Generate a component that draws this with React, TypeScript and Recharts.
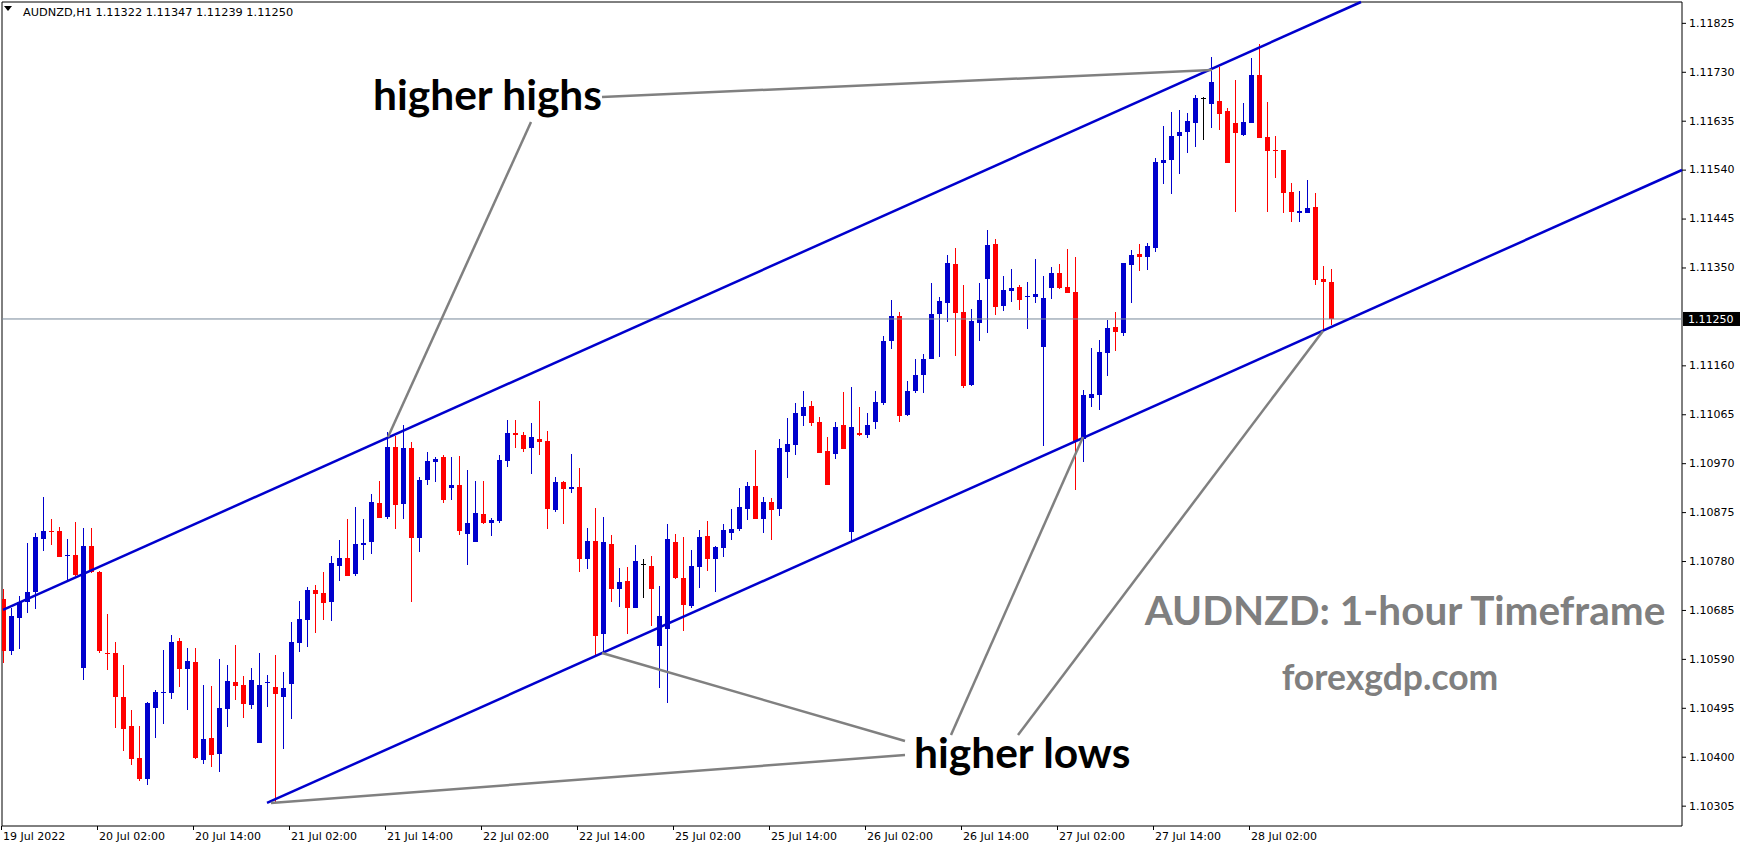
import React from 'react';
import {
  ComposedChart,
  Bar,
  XAxis,
  YAxis,
  ReferenceLine,
  ReferenceArea,
} from 'recharts';

// AUDNZD H1 candles, 19 Jul 14:00 .. 28 Jul 12:00
const opens = [
  1.10706, 1.10605, 1.10669, 1.107, 1.1072, 1.10823, 1.10838, 1.10838, 1.1079, 1.10792,
  1.10572, 1.10809, 1.10759, 1.10601, 1.10601, 1.10516, 1.1046, 1.10397, 1.10357, 1.10495,
  1.10524, 1.10524, 1.10625, 1.1057, 1.10584, 1.10394, 1.10436, 1.10405, 1.10493, 1.10545,
  1.10539, 1.105, 1.10427, 1.10543, 1.10535, 1.10516, 1.10541, 1.10621, 1.10665, 1.10724,
  1.10718, 1.107, 1.1077, 1.10786, 1.10755, 1.10812, 1.10817, 1.10893, 1.10866, 1.11001,
  1.10891, 1.11, 1.10825, 1.10937, 1.10972, 1.10982, 1.10922, 1.10928, 1.10833, 1.10817,
  1.10871, 1.10854, 1.10858, 1.10974, 1.11029, 1.11025, 1.11, 1.11017, 1.11013, 1.10879,
  1.10933, 1.10921, 1.10924, 1.10784, 1.10819, 1.10638, 1.10813, 1.10726, 1.10741, 1.10689,
  1.10774, 1.1077, 1.10615, 1.10648, 1.10817, 1.10747, 1.10693, 1.10768, 1.10829, 1.10784,
  1.10805, 1.10834, 1.10842, 1.10881, 1.10926, 1.10862, 1.10895, 1.10881, 1.10992, 1.11005,
  1.11062, 1.11081, 1.1105, 1.10994, 1.10988, 1.11044, 1.10836, 1.11029, 1.11025, 1.1105,
  1.11087, 1.11207, 1.11256, 1.11064, 1.1111, 1.11141, 1.11172, 1.1126, 1.11281, 1.11357,
  1.11264, 1.11122, 1.11242, 1.11328, 1.11396, 1.11275, 1.11304, 1.11312, 1.11293, 1.11293,
  1.11196, 1.1131, 1.11339, 1.11312, 1.11302, 1.11017, 1.11097, 1.11102, 1.11184, 1.11234,
  1.11223, 1.11355, 1.11376, 1.1137, 1.11388, 1.11553, 1.11559, 1.11605, 1.11613, 1.11631,
  1.1168, 1.11668, 1.11673, 1.11654, 1.11631, 1.11607, 1.11631, 1.11724, 1.11603, 1.11579,
  1.11578, 1.11497, 1.11456, 1.11456, 1.11468, 1.11328, 1.11322,
];
const highs = [
  1.10726, 1.10689, 1.10712, 1.10815, 1.10834, 1.10904, 1.10862, 1.10846, 1.10823, 1.10856,
  1.10844, 1.10844, 1.10761, 1.10677, 1.10623, 1.10578, 1.10491, 1.1046, 1.10506, 1.1053,
  1.10607, 1.10636, 1.10631, 1.10611, 1.10611, 1.10539, 1.10537, 1.1059, 1.10578, 1.10617,
  1.10557, 1.10572, 1.10601, 1.10559, 1.10598, 1.10565, 1.10662, 1.10702, 1.1073, 1.10733,
  1.10759, 1.1079, 1.10821, 1.10862, 1.10885, 1.10862, 1.1091, 1.10935, 1.11031, 1.11023,
  1.11044, 1.11011, 1.10943, 1.10992, 1.10982, 1.10986, 1.10982, 1.10984, 1.10957, 1.10935,
  1.10935, 1.10864, 1.10986, 1.11054, 1.11054, 1.11031, 1.11048, 1.11091, 1.11033, 1.10943,
  1.10935, 1.10988, 1.10961, 1.10844, 1.10883, 1.10866, 1.10831, 1.10766, 1.10768, 1.10811,
  1.10784, 1.1079, 1.10732, 1.10852, 1.10833, 1.10827, 1.10801, 1.1084, 1.10858, 1.10809,
  1.10852, 1.10881, 1.10922, 1.10933, 1.10996, 1.10904, 1.10902, 1.11017, 1.11058, 1.11087,
  1.1111, 1.11091, 1.1106, 1.11021, 1.1105, 1.11108, 1.11118, 1.11079, 1.11067, 1.1111,
  1.11217, 1.11287, 1.11264, 1.1113, 1.11172, 1.11182, 1.1132, 1.11293, 1.11374, 1.11388,
  1.11316, 1.11269, 1.1132, 1.11423, 1.11405, 1.11334, 1.11347, 1.11316, 1.11322, 1.11367,
  1.11334, 1.11351, 1.11357, 1.11386, 1.1137, 1.11112, 1.11194, 1.11209, 1.11248, 1.11264,
  1.11359, 1.11384, 1.11396, 1.11398, 1.11563, 1.11625, 1.11652, 1.11656, 1.1165, 1.11685,
  1.11681, 1.11759, 1.11739, 1.1166, 1.11714, 1.11669, 1.11757, 1.11784, 1.11671, 1.11605,
  1.11578, 1.11514, 1.11499, 1.1152, 1.11495, 1.11353, 1.11347,
];
const lows = [
  1.10582, 1.10598, 1.10609, 1.10679, 1.10687, 1.108, 1.10811, 1.10788, 1.10743, 1.10751,
  1.10549, 1.10757, 1.10601, 1.10568, 1.10456, 1.10411, 1.10384, 1.10353, 1.10345, 1.10436,
  1.10464, 1.10512, 1.10535, 1.10491, 1.10396, 1.10386, 1.1038, 1.1037, 1.10458, 1.1051,
  1.10475, 1.10493, 1.10427, 1.10497, 1.1031, 1.10415, 1.10473, 1.10603, 1.10613, 1.1064,
  1.10665, 1.10663, 1.10741, 1.10751, 1.10751, 1.10782, 1.10794, 1.10864, 1.10862, 1.10842,
  1.10862, 1.107, 1.10798, 1.10928, 1.10933, 1.10893, 1.10899, 1.10831, 1.10772, 1.10817,
  1.10852, 1.10829, 1.10854, 1.10963, 1.11, 1.10992, 1.10949, 1.10986, 1.10842, 1.10875,
  1.10852, 1.10912, 1.10759, 1.10765, 1.10594, 1.10603, 1.107, 1.10691, 1.10638, 1.10689,
  1.10708, 1.10654, 1.10533, 1.10504, 1.10745, 1.10644, 1.10689, 1.10728, 1.10761, 1.1072,
  1.10788, 1.10821, 1.10838, 1.1086, 1.10862, 1.10834, 1.10821, 1.10867, 1.10941, 1.10986,
  1.11042, 1.11042, 1.1099, 1.10928, 1.10978, 1.10998, 1.10817, 1.11023, 1.11019, 1.11036,
  1.11083, 1.11192, 1.1105, 1.11062, 1.11106, 1.11106, 1.11172, 1.11176, 1.11244, 1.11178,
  1.11116, 1.1112, 1.11207, 1.11223, 1.11258, 1.11267, 1.11283, 1.11267, 1.11231, 1.11281,
  1.11003, 1.11289, 1.11308, 1.113, 1.10918, 1.10972, 1.11079, 1.11073, 1.11139, 1.11188,
  1.11217, 1.11281, 1.11343, 1.11345, 1.1138, 1.11512, 1.11493, 1.11532, 1.11572, 1.11584,
  1.11598, 1.11621, 1.11617, 1.11553, 1.11458, 1.11605, 1.11631, 1.11602, 1.11458, 1.11524,
  1.11456, 1.11438, 1.11438, 1.11456, 1.11316, 1.11227, 1.11239,
];
const closes = [
  1.10605, 1.10673, 1.107, 1.1072, 1.10827, 1.10838, 1.10836, 1.10788, 1.10792, 1.10753,
  1.10809, 1.10759, 1.10605, 1.10599, 1.10516, 1.10454, 1.10396, 1.10357, 1.10504, 1.10526,
  1.10526, 1.10623, 1.1057, 1.10586, 1.10397, 1.10434, 1.10403, 1.10495, 1.10547, 1.10537,
  1.10502, 1.10549, 1.10539, 1.10545, 1.10522, 1.10533, 1.10623, 1.10667, 1.10724, 1.10716,
  1.10698, 1.10776, 1.10786, 1.10751, 1.10813, 1.10815, 1.10895, 1.10864, 1.11001, 1.10889,
  1.11, 1.10825, 1.10937, 1.10974, 1.10978, 1.10899, 1.10928, 1.10838, 1.10854, 1.10873,
  1.10854, 1.1086, 1.10976, 1.11029, 1.11025, 1.10998, 1.11021, 1.11011, 1.10881, 1.10933,
  1.1092, 1.10924, 1.10784, 1.10819, 1.10634, 1.10817, 1.10726, 1.10739, 1.10689, 1.1078,
  1.10774, 1.10726, 1.10673, 1.10823, 1.10747, 1.10695, 1.1077, 1.10827, 1.10784, 1.10807,
  1.1084, 1.10842, 1.10885, 1.10926, 1.10862, 1.10895, 1.10879, 1.11, 1.11007, 1.11067,
  1.11079, 1.11048, 1.1099, 1.10928, 1.1104, 1.10998, 1.1104, 1.11025, 1.11044, 1.11089,
  1.11207, 1.11256, 1.11062, 1.1111, 1.11141, 1.11172, 1.1126, 1.11285, 1.11359, 1.11262,
  1.1112, 1.11246, 1.11287, 1.11394, 1.11273, 1.11306, 1.1131, 1.11287, 1.11295, 1.11299,
  1.11291, 1.11339, 1.1131, 1.113, 1.11013, 1.11102, 1.11104, 1.11186, 1.11233, 1.11225,
  1.11359, 1.11374, 1.1137, 1.11392, 1.11555, 1.11559, 1.11605, 1.11613, 1.11635, 1.11679,
  1.1168, 1.1171, 1.11648, 1.11553, 1.11611, 1.11633, 1.11724, 1.11602, 1.11576, 1.11577,
  1.11495, 1.11458, 1.1146, 1.11466, 1.11326, 1.11322, 1.1125,
];

const timeTickIdx = [0, 12, 24, 36, 48, 60, 72, 84, 96, 108, 120, 132, 144, 156];
const timeLabels = [
  '19 Jul 2022', '20 Jul 02:00', '20 Jul 14:00', '21 Jul 02:00', '21 Jul 14:00',
  '22 Jul 02:00', '22 Jul 14:00', '25 Jul 02:00', '25 Jul 14:00', '26 Jul 02:00',
  '26 Jul 14:00', '27 Jul 02:00', '27 Jul 14:00', '28 Jul 02:00',
];
const priceTicks = [
  1.10305, 1.104, 1.10495, 1.1059, 1.10685, 1.1078, 1.10875, 1.1097, 1.11065,
  1.1116, 1.1125, 1.1135, 1.11445, 1.1154, 1.11635, 1.1173, 1.11825,
];
const CURRENT = 1.1125;

// channel lines (bar index, price)
const channelLines = [
  [{ x: 0, y: 1.10685 }, { x: 169.75, y: 1.118655 }],
  [{ x: 33, y: 1.103102 }, { x: 209.875, y: 1.115393 }],
];
// annotation pointers
const pointerLines = [
  [{ x: 74.875, y: 1.116811 }, { x: 151.125, y: 1.117335 }],
  [{ x: 66, y: 1.116325 }, { x: 48.125, y: 1.110209 }],
  [{ x: 112.75, y: 1.104306 }, { x: 74.875, y: 1.106015 }],
  [{ x: 112.75, y: 1.104034 }, { x: 33.5, y: 1.103102 }],
  [{ x: 118.5, y: 1.104422 }, { x: 135, y: 1.110209 }],
  [{ x: 126.875, y: 1.104422 }, { x: 165, y: 1.112267 }],
];

const X_MIN = -0.125;
const X_MAX = 209.875;
const Y_MIN = 1.102655;
const Y_MAX = 1.118655;

const BULL = '#0000cd';
const BEAR = '#ff0000';
const DOJI = '#000000';
const TICK_FONT = '"DejaVu Sans", sans-serif';
const BIG_FONT = 'Lato, "Open Sans", sans-serif';

const candles = opens.map((o, i) => ({
  i,
  open: o,
  high: highs[i],
  low: lows[i],
  close: closes[i],
}));

const Candle = (props: any) => {
  const { x, y, width, height, payload } = props;
  const { open, close, high, low } = payload;
  const top = Math.min(y, y + height);
  const h = Math.abs(height);
  const span = high - low || 1e-9;
  const py = (v: number) => top + ((high - v) / span) * h;
  const cx = Math.round(x + width / 2);
  const color = close > open ? BULL : close < open ? BEAR : DOJI;
  const yo = py(open);
  const yc = py(close);
  const bTop = Math.round(Math.min(yo, yc));
  const bH = Math.max(1, Math.round(Math.abs(yo - yc)));
  return (
    <g>
      <rect x={cx} y={Math.round(top)} width={1} height={Math.max(1, Math.round(h))} fill={color} />
      <rect x={cx - 2} y={bTop} width={5} height={bH} fill={color} />
    </g>
  );
};

const PriceTick = ({ x, y, payload }: any) => {
  const v = payload.value;
  const label = v.toFixed(5);
  if (Math.abs(v - CURRENT) < 1e-7) {
    return (
      <g>
        <rect x={x + 1} y={y - 7} width={57} height={14} fill="#000" />
        <text x={x + 6} y={y} dy="0.35em" fill="#fff" fontSize={11} fontFamily={TICK_FONT}>
          {label}
        </text>
      </g>
    );
  }
  return (
    <g>
      <line x1={x} x2={x + 4} y1={y + 0.5} y2={y + 0.5} stroke="#000" />
      <text x={x + 7} y={y} dy="0.35em" fill="#000" fontSize={11} fontFamily={TICK_FONT}>
        {label}
      </text>
    </g>
  );
};

const TimeTick = ({ x, y, payload }: any) => {
  const idx = timeTickIdx.indexOf(payload.value);
  return (
    <g>
      <line x1={x - 1.5} x2={x - 1.5} y1={y} y2={y + 4} stroke="#000" />
      <text x={x} y={y + 14} fill="#000" fontSize={11} fontFamily={TICK_FONT}>
        {timeLabels[idx]}
      </text>
    </g>
  );
};

export default function App() {
  return (
    <div
      style={{
        position: 'absolute',
        left: 0,
        top: 0,
        width: 1746,
        height: 850,
        background: '#fff',
        overflow: 'hidden',
      }}
    >
      <ComposedChart
        width={1746}
        height={850}
        data={candles}
        margin={{ top: 2, left: 2, right: 0, bottom: 0 }}
      >
        <XAxis
          dataKey="i"
          type="number"
          domain={[X_MIN, X_MAX]}
          allowDataOverflow
          ticks={timeTickIdx}
          interval={0}
          height={24}
          tickSize={0}
          tickMargin={0}
          axisLine={false}
          tick={<TimeTick />}
        />
        <YAxis
          orientation="right"
          type="number"
          domain={[Y_MIN, Y_MAX]}
          allowDataOverflow
          ticks={priceTicks}
          interval={0}
          width={64}
          tickSize={0}
          tickMargin={0}
          axisLine={false}
          tick={<PriceTick />}
        />
        <Bar
          dataKey={(d: any) => [d.low, d.high]}
          barSize={5}
          shape={<Candle />}
          isAnimationActive={false}
        />
        <ReferenceLine y={CURRENT} stroke="#778899" strokeWidth={1} ifOverflow="visible" />
        {channelLines.map((seg, i) => (
          <ReferenceLine
            key={`ch-${i}`}
            segment={seg}
            stroke={BULL}
            strokeWidth={2.5}
            ifOverflow="visible"
          />
        ))}
        {pointerLines.map((seg, i) => (
          <ReferenceLine
            key={`pt-${i}`}
            segment={seg}
            stroke="#808080"
            strokeWidth={2.5}
            ifOverflow="visible"
          />
        ))}
        <ReferenceArea
          x1={X_MIN}
          x2={X_MAX}
          y1={Y_MIN}
          y2={Y_MAX}
          fill="none"
          fillOpacity={0}
          stroke="#000"
          strokeOpacity={1}
          ifOverflow="visible"
        />
      </ComposedChart>
      <svg
        width={1746}
        height={850}
        style={{ position: 'absolute', left: 0, top: 0, pointerEvents: 'none' }}
      >
        <polygon points="4,6 12,6 8,11" fill="#000" />
        <text x={23} y={16} fontSize={11.3} fontFamily={TICK_FONT} fill="#000">
          {'AUDNZD,H1  1.11322 1.11347 1.11239 1.11250'}
        </text>
        <text x={373} y={110} fontSize={42.5} fontWeight={700} fontFamily={BIG_FONT} fill="#000">
          higher highs
        </text>
        <text x={914} y={768} fontSize={42.5} fontWeight={700} fontFamily={BIG_FONT} fill="#000">
          higher lows
        </text>
        <text
          x={1405}
          y={625}
          fontSize={40.5}
          fontWeight={700}
          fontFamily={BIG_FONT}
          fill="#7f7f7f"
          textAnchor="middle"
        >
          AUDNZD: 1-hour Timeframe
        </text>
        <text
          x={1390}
          y={690}
          fontSize={35.5}
          fontWeight={700}
          fontFamily={BIG_FONT}
          fill="#7f7f7f"
          textAnchor="middle"
        >
          forexgdp.com
        </text>
      </svg>
    </div>
  );
}
